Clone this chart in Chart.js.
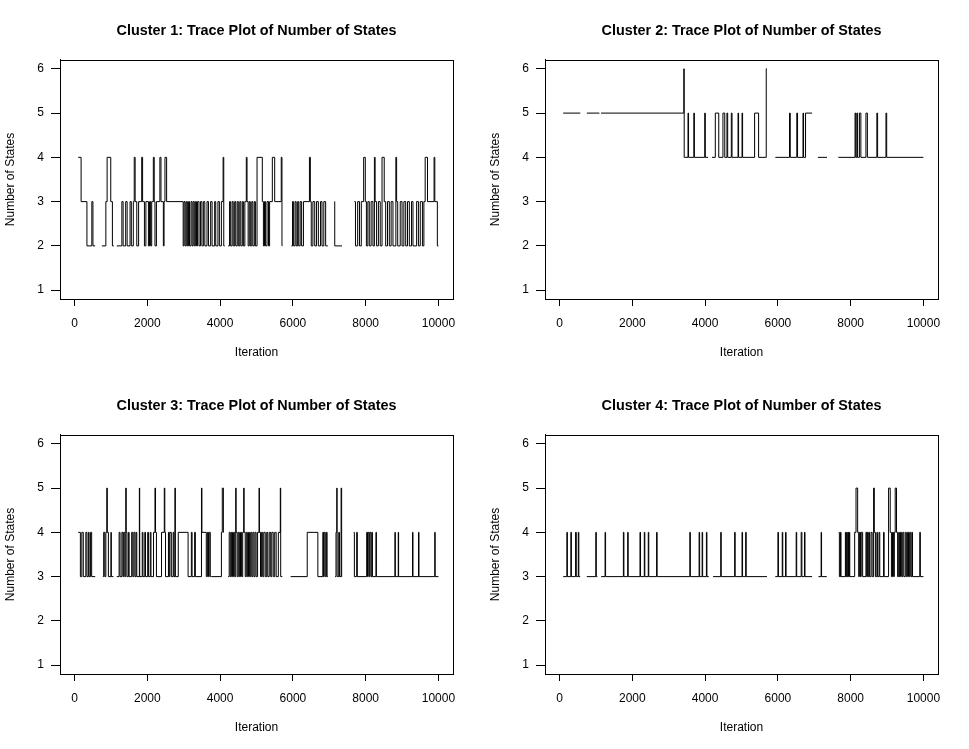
<!DOCTYPE html>
<html>
<head>
<meta charset="utf-8">
<script src="https://cdn.jsdelivr.net/npm/chart.js@4.4.1/dist/chart.umd.min.js"></script>
<style>
  body { margin: 0; background: #fff; }
  #wrap { position: relative; width: 969px; height: 749px; }
  canvas { position: absolute; }
</style>
</head>
<body>
<div id="wrap">
  <canvas id="c1" width="484" height="374" style="left:0;top:0"></canvas>
  <canvas id="c2" width="484" height="374" style="left:485px;top:0"></canvas>
  <canvas id="c3" width="484" height="374" style="left:0;top:375px"></canvas>
  <canvas id="c4" width="484" height="374" style="left:485px;top:375px"></canvas>
</div>
<script>
// iteration where the state changes, and the state held from there (null = gap)
const iter1 = [100,180,340,475,505,565, 750,860,895,995,1040,1080,
  1160,1300,1335,1405,1445,1525,1560,1615,1640,1665,1710,1760,1845,1870,1920,1960,2030,2060,2090,2120,2165,2190,2210,2250,2345,2375,2440,2460,2485,2530,
  2985,3010,3040,3070,3100,3130,3160,3200,3230,3260,3290,3320,3350,3380,3420,3460,3500,3540,3580,3640,3680,3740,3780,3850,3880,3940,3980,4035,4082,4100,4127,
  4220,4260,4290,4330,4360,4400,4430,4470,4500,4540,4570,4610,4640,4680,4720,4740,4770,4800,4830,4870,4900,4940,4970,5015,5160,5190,5220,5250,5290,5330,5360,5435,5500,5680,5700,5710,
  5955,5990,6020,6060,6090,6130,6160,6200,6240,6290,6455,6480,6505,6550,6600,6650,6700,6760,6800,6850,6900,6960,
  7140,7150,7350,
  7690,7720,7780,7830,7880,7945,7990,8020,8060,8100,8150,8200,8240,8260,8300,8350,8400,8450,8510,8550,8600,8650,8700,8750,8830,8850,8880,8950,9000,9050,9100,9150,9200,9260,9300,9400,9450,9500,9560,9600,9635,9700,9880,9900,9970,10000];
const states1 = [4,3,2,3,2,null, 2,3,4,3,2,null,
  2,3,2,3,2,3,2,3,4,3,2,3,4,3,2,3,2,3,2,3,4,3,2,3,4,3,2,3,4,3,
  2,3,2,3,2,3,2,3,2,3,2,3,2,3,2,3,2,3,2,3,2,3,2,3,2,3,2,3,4,2,null,
  2,3,2,3,2,3,2,3,2,3,2,3,2,3,4,3,2,3,2,3,2,3,2,4,3,2,3,2,3,2,3,4,3,4,2,null,
  2,3,2,3,2,3,2,3,2,3,4,3,2,3,2,3,2,3,2,3,2,null,
  3,2,null,
  3,2,3,2,3,4,3,2,3,2,3,2,4,3,2,3,2,4,3,2,3,2,3,2,4,3,2,3,2,3,2,3,2,3,2,3,2,3,2,3,4,3,4,3,2,2];

const iter2 = [100,570, 750,1095, 1140,3415,3425,3530,3545,3690,3705,3990,4005,4080,
  4190,4280,4375,4490,4540,4600,4620,4720,4740,4905,4920,5015,5030,5360,5470,5680,5700,
  5930,6320,6340,6520,6540,6690,6705,6760,6940,
  7100,7350,
  7660,8120,8140,8170,8190,8240,8280,8420,8460,8720,8740,8970,8990,10000];
const states2 = [5,null, 5,null, 5,6,4,5,4,5,4,5,4,null,
  4,5,4,5,4,5,4,5,4,5,4,5,4,5,4,6,null,
  4,5,4,5,4,5,4,5,null,
  4,null,
  4,5,4,5,4,5,4,5,4,5,4,5,4,4];

const iter3 = [100,160,200,240,310,340,380,400,440,470,567,
  776,800,830,860,886,900,930,1000,1010,1069,
  1160,1225,1250,1300,1330,1350,1380,1407,1420,1440,1480,1500,1570,1600,1630,1660,1690,1710,1781,1790,1860,1880,1930,1950,2010,2030,2080,2100,2170,2210,2225,2250,2390,2466,2480,2500,2580,2600,2620,2660,2710,2730,2758,2770,2850,3120,3210,3230,3300,3320,3488,3500,3620,3650,3680,3700,3730,3762,4036,4060,4090,4100,
  4220,4250,4280,4310,4340,4370,4400,4429,4440,4470,4500,4530,4560,4590,4620,4648,4660,4690,4720,4750,4780,4810,4840,4870,4900,4930,4960,4990,5030,5070,5080,5110,5140,5170,5200,5240,5280,5310,5350,5390,5420,5460,5500,5540,5600,5654,5665,5709,
  5937,6394,6686,6823,6840,6860,6890,6920,6940,6960,
  7160,7185,7206,7215,7260,7280,7325,7340,7352,
  7672,7690,7754,7770,8028,8050,8070,8100,8120,8150,8174,8185,8283,8295,8804,8815,8895,8905,9288,9300,9452,9465,9899,9910,10000];
const states3 = [4,3,4,3,4,3,4,3,4,3,null,
  3,4,3,4,5,4,3,4,3,null,
  3,4,3,4,3,4,3,5,4,3,4,3,4,3,4,3,4,3,5,3,4,3,4,3,4,3,4,3,4,5,4,3,4,5,4,3,4,3,4,3,4,3,5,3,4,3,4,3,4,3,5,4,3,4,3,4,3,3,4,5,4,null,
  3,4,3,4,3,4,3,5,4,3,4,3,4,3,4,5,4,3,4,3,4,3,4,3,4,3,4,3,4,5,4,3,4,3,4,3,4,3,4,3,4,3,4,3,4,5,3,null,
  3,4,3,4,3,4,3,4,3,null,
  3,4,5,3,4,3,5,3,null,
  4,3,4,3,4,3,4,3,4,3,4,3,4,3,4,3,4,3,4,3,4,3,4,3,3];

const iter4 = [100,201,215,311,325,440,460,515,530,567,
  749,996,1010,1041,
  1142,1251,1265,1754,1768,1872,1886,2210,2224,2329,2343,2438,2452,2667,2681,3580,3594,3835,3849,3918,3932,4036,4050,4100,
  4219,4429,4443,4812,4826,5015,5029,5115,5129,5700,
  5928,6001,6015,6120,6134,6211,6225,6503,6517,6640,6660,6731,6745,6941,
  7115,7188,7200,7343,
  7672,7690,7720,7735,7855,7870,7890,7905,7925,7940,7964,7975,8110,8147,8192,8220,8240,8270,8290,8329,8420,8440,8460,8480,8500,8520,8560,8590,8630,8650,8680,8720,8740,8780,8800,8904,8920,9042,9087,9120,9150,9180,9200,9224,9260,9290,9320,9340,9370,9400,9430,9460,9500,9530,9560,9590,9620,9650,9680,9700,9899,9915,10000];
const states4 = [3,4,3,4,3,4,3,4,3,null,
  3,4,3,null,
  3,4,3,4,3,4,3,4,3,4,3,4,3,4,3,4,3,4,3,4,3,4,3,null,
  3,4,3,4,3,4,3,4,3,null,
  3,4,3,4,3,4,3,4,3,4,3,4,3,null,
  3,4,3,null,
  4,3,4,3,4,3,4,3,4,3,4,3,4,5,4,3,4,3,4,3,4,3,4,3,4,3,4,3,5,4,3,4,3,4,3,4,3,5,4,3,4,3,4,5,4,3,4,3,4,3,4,3,4,3,4,3,4,3,4,3,4,3,3];

const clusterTitles = ['Cluster 1: Trace Plot of Number of States', 'Cluster 2: Trace Plot of Number of States',
  'Cluster 3: Trace Plot of Number of States', 'Cluster 4: Trace Plot of Number of States'];
const xTicks = [0, 2000, 4000, 6000, 8000, 10000];
const yTicks = [1, 2, 3, 4, 5, 6];

Chart.defaults.font.family = '"Liberation Sans", Arial, Helvetica, sans-serif';
Chart.defaults.color = '#000';

// the value holds until the next change, so close each run before a gap
function toPoints(iters, states) {
    const pts = [];
    let prev = null;
    iters.forEach((x, i) => {
        const y = states[i];
        if (y === null && prev !== null) pts.push({ x, y: prev });
        pts.push({ x, y });
        prev = y;
    });
    return pts;
}

const boxPlugin = {
    id: 'box',
    afterDraw(chart) {
        const { ctx, chartArea: a } = chart;
        ctx.save();
        ctx.strokeStyle = '#000';
        ctx.lineWidth = 1;
        ctx.strokeRect(Math.round(a.left) + 0.5, Math.round(a.top) + 0.5, Math.round(a.right - a.left), Math.round(a.bottom - a.top));
        ctx.restore();
    }
};

const series = [[iter1, states1], [iter2, states2], [iter3, states3], [iter4, states4]];

series.forEach(([it, st], k) => {
    new Chart(document.getElementById('c' + (k + 1)), {
        type: 'line',
        data: {
            datasets: [{
                data: toPoints(it, st),
                borderColor: '#000',
                borderWidth: 1,
                pointRadius: 0,
                stepped: true,
                spanGaps: false
            }]
        },
        options: {
            responsive: false,
            animation: false,
            layout: { padding: { left: 0, top: 0, right: 31, bottom: 0 } },
            plugins: {
                legend: { display: false },
                tooltip: { enabled: false },
                title: {
                    display: true,
                    text: clusterTitles[k],
                    fullSize: false,
                    color: '#000',
                    font: { size: 14.4, weight: 'bold' },
                    padding: { top: 22.4, bottom: 20.3 }
                }
            },
            scales: {
                x: {
                    type: 'linear',
                    min: -400,
                    max: 10400,
                    afterBuildTicks: s => { s.ticks = xTicks.map(v => ({ value: v })); },
                    afterFit: s => { s.height = 75; },
                    ticks: { font: { size: 12 }, padding: 10, maxRotation: 0, autoSkip: false, callback: v => String(v) },
                    grid: { drawOnChartArea: false, drawTicks: true, tickLength: 7, color: '#000' },
                    border: { display: true, color: '#000' },
                    title: { display: true, text: 'Iteration', font: { size: 12 }, padding: { top: 0, bottom: 14 } }
                },
                y: {
                    min: 0.8,
                    max: 6.2,
                    afterBuildTicks: s => { s.ticks = yTicks.map(v => ({ value: v })); },
                    afterFit: s => { s.width = 60; },
                    ticks: { font: { size: 12 }, padding: 7, autoSkip: false, callback: v => String(v) },
                    grid: { drawOnChartArea: false, drawTicks: true, tickLength: 9, color: '#000' },
                    border: { display: true, color: '#000' },
                    title: { display: true, text: 'Number of States', font: { size: 12 }, padding: { top: 3, bottom: 0 } }
                }
            }
        },
        plugins: [boxPlugin]
    });
});
</script>
</body>
</html>
